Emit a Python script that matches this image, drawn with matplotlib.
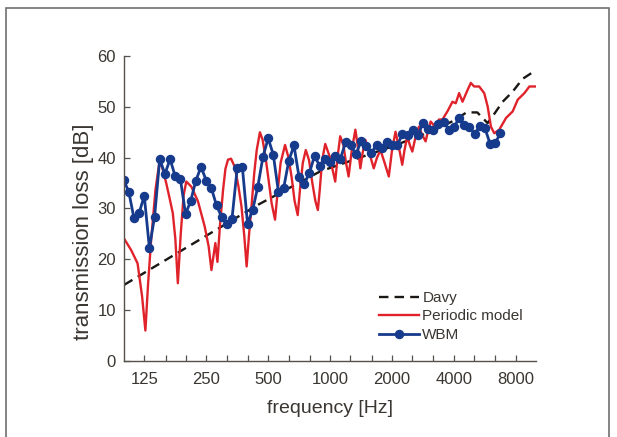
import matplotlib
matplotlib.use("Agg")
import matplotlib.pyplot as plt
from matplotlib.patches import Rectangle
from matplotlib.ticker import FixedLocator, NullFormatter

plt.rcParams['font.family'] = ['Liberation Sans', 'DejaVu Sans']

# Davy model (dashed)
davy_f = [100, 445, 895, 2000, 3081, 4000, 4600, 5190, 5828, 6277, 6898, 7718, 8620, 10000]
davy_db = [15.0, 30.7, 37.3, 42.2, 45.1, 47.3, 48.9, 48.9, 46.8, 48.6, 51.0, 53.0, 55.5, 57.2]

# periodic model (red)
per_f = [100, 108, 116, 122, 126.6, 130.5, 135, 141.7, 148.2, 153, 159.8, 166, 172, 177, 182,
         188, 194, 200, 211.7, 228, 246, 257, 265, 277, 283.5, 292, 302, 310, 319, 330,
         344, 358, 371, 383, 393, 404, 415, 428, 440, 456, 470, 486, 501, 520, 540,
         555, 575, 604, 628, 651, 672, 696, 715, 737, 762, 790, 820, 848, 872, 890,
         915, 947, 1000, 1030, 1059, 1090, 1120, 1160, 1195, 1230, 1275, 1327, 1360, 1403, 1440,
         1484, 1550, 1630, 1690, 1757, 1840, 1929, 2000, 2080, 2160, 2242, 2300, 2372, 2440,
         2509, 2600, 2702, 2800, 2913, 3000, 3081, 3170, 3260, 3380, 3515, 3717, 3933, 4081,
         4236, 4401, 4655, 4829, 5012, 5303, 5610, 5828, 6049, 6277, 6639, 7160, 7718, 8162,
         8796, 9303, 10030]
per_db = [24.0, 21.8, 19.2, 12.7, 6.0, 15.3, 23.8, 33.7, 39.2, 38.0, 35.0, 32.0, 29.1, 24.0, 15.3,
          25.0, 32.5, 35.3, 34.3, 31.4, 26.4, 22.5, 17.9, 23.2, 19.5, 27.0, 33.7, 37.8, 39.6, 39.8,
          38.2, 34.5, 30.4, 24.5, 18.6, 25.0, 30.4, 37.0, 41.5, 45.0, 43.5, 40.0, 36.0, 31.0, 27.8,
          33.0, 39.0, 42.5, 40.0, 36.0, 31.5, 28.7, 34.0, 39.0, 41.5, 39.5, 35.0, 31.5, 29.7, 33.5,
          39.5, 42.7, 40.0, 37.5, 35.3, 40.5, 44.2, 42.5, 39.0, 36.3, 41.5, 45.5, 42.5, 37.9, 41.0,
          43.5, 41.0, 37.9, 40.0, 41.5, 39.0, 36.3, 41.5, 45.1, 42.0, 38.6, 41.5, 44.2, 42.5,
          41.2, 44.0, 46.1, 44.5, 43.2, 45.5, 47.1, 46.5, 45.8, 47.5, 47.5, 49.1, 51.0, 50.7,
          52.7, 51.0, 53.3, 54.7, 54.0, 54.0, 52.7, 50.1, 46.1, 44.8, 45.5, 47.8, 49.1, 51.4,
          52.7, 54.0, 54.0]

# WBM (blue, 1/12 octave bands)
wbm_f = [99.2, 105.1, 111.4, 118.0, 125.0, 132.4, 140.3, 148.6, 157.5, 166.9, 176.8, 187.3,
         198.4, 210.2, 222.7, 236.0, 250.0, 264.9, 280.6, 297.3, 315.0, 333.7, 353.6, 374.6,
         396.9, 420.4, 445.4, 471.9, 500.0, 529.7, 561.2, 594.6, 630.0, 667.4, 707.1, 749.2,
         793.7, 840.9, 890.9, 943.9, 1000, 1059.5, 1122.5, 1189.2, 1259.9, 1334.8, 1414.2,
         1498.3, 1587.4, 1681.8, 1781.8, 1887.7, 2000, 2118.9, 2244.9, 2378.4, 2519.8, 2669.6,
         2828.4, 2996.6, 3174.8, 3363.6, 3563.6, 3775.5, 4000, 4237.8, 4489.8, 4756.8, 5039.7,
         5339.4, 5656.9, 5993.2, 6349.6, 6727.2]
wbm_db = [35.6, 33.3, 28.1, 29.1, 32.5, 22.2, 28.4, 39.7, 36.8, 39.7, 36.3, 35.8,
          28.9, 31.5, 35.5, 38.2, 35.5, 34.0, 30.6, 28.3, 26.9, 28.0, 37.9, 38.2,
          27.0, 29.7, 34.3, 40.2, 43.8, 40.6, 33.2, 34.0, 39.4, 42.4, 36.1, 34.8,
          37.0, 40.4, 38.3, 39.7, 39.2, 40.4, 39.8, 43.0, 42.5, 40.7, 43.2,
          42.3, 41.0, 42.5, 41.9, 43.0, 42.5, 42.4, 44.6, 44.5, 45.4, 44.4,
          46.8, 45.6, 45.5, 46.7, 47.1, 45.5, 46.0, 47.8, 46.5, 46.1, 44.6,
          46.3, 45.8, 42.7, 42.9, 44.8]

xtick_major = [125, 250, 500, 1000, 2000, 4000, 8000]
xtick_labels = ['125', '250', '500', '1000', '2000', '4000', '8000']
xtick_minor = [160, 200, 315, 400, 630, 800, 1250, 1600, 2500, 3150, 5000, 6300]

text_col = '#3a3632'
spine_col = '#55514c'

fig = plt.figure(figsize=(6.17, 4.37), dpi=100)
ax = fig.add_axes([0.2015, 0.1739, 0.667, 0.698])

ax.plot(davy_f, davy_db, color='#1a1714', lw=1.7, dashes=(4, 2.6), label='Davy')
ax.plot(per_f, per_db, color='#e0232b', lw=1.7, label='Periodic model')
ax.plot(wbm_f, wbm_db, color='#163a8c', lw=2.0, marker='o', ms=5.8, label='WBM')

ax.set_xscale('log')
ax.set_xlim(100, 10000)
ax.set_ylim(0, 60)
ax.xaxis.set_major_locator(FixedLocator(xtick_major))
ax.set_xticklabels(xtick_labels)
ax.xaxis.set_minor_locator(FixedLocator(xtick_minor))
ax.xaxis.set_minor_formatter(NullFormatter())
ax.set_yticks(range(0, 61, 10))

for s in ['top', 'right']:
    ax.spines[s].set_visible(False)
for s in ['left', 'bottom']:
    ax.spines[s].set_color(spine_col)
    ax.spines[s].set_linewidth(1.0)

ax.tick_params(which='both', direction='in', length=4, width=0.9, color=spine_col,
               labelcolor=text_col, labelsize=12)
ax.tick_params(axis='x', pad=8)
ax.tick_params(axis='y', pad=6)

ax.set_xlabel('frequency [Hz]', fontsize=14, color=text_col, labelpad=9.5)
ax.set_ylabel('transmission loss [dB]', fontsize=16, color=text_col)
ax.yaxis.set_label_coords(-0.073, 0.423)

leg = ax.legend(loc='upper left', bbox_to_anchor=(0.60, 0.255), frameon=False, fontsize=11,
                handlelength=2.6, handletextpad=0.25, labelspacing=0.3, borderpad=0)
for t in leg.get_texts():
    t.set_color(text_col)

fig.patches.append(Rectangle((5.5 / 617, -0.05), (609 - 5.5) / 617, 1 - 7.5 / 437 + 0.05,
                             transform=fig.transFigure, fill=False, edgecolor='#707070', lw=1.2))

fig.savefig('out.png', dpi=100)
